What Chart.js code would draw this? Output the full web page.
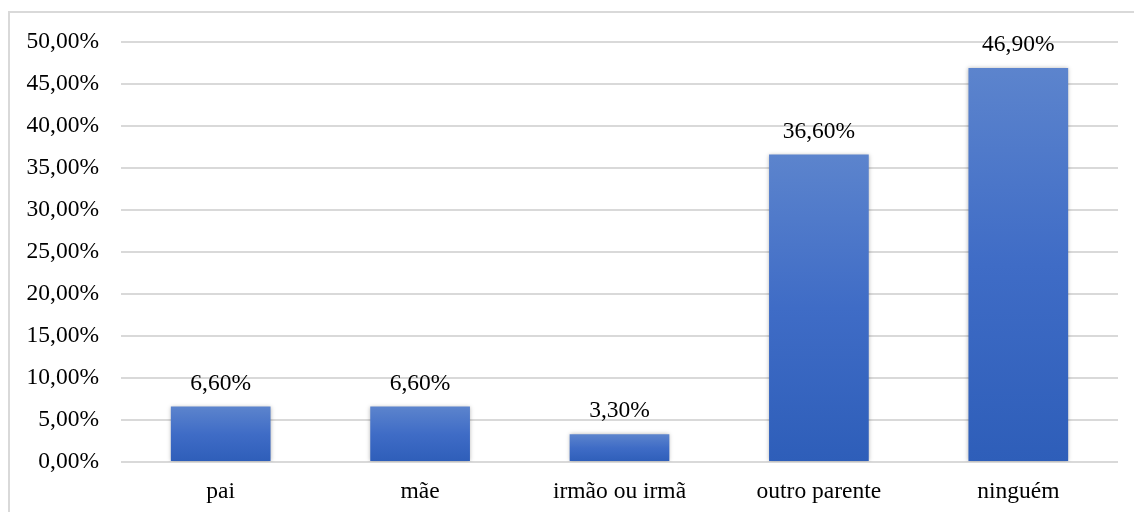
<!DOCTYPE html>
<html>
<head>
<meta charset="utf-8">
<script src="https://cdn.jsdelivr.net/npm/chart.js@4.4.1/dist/chart.umd.min.js"></script>
<style>
  html, body { margin: 0; padding: 0; background: #fff; }
  #wrap { width: 1134px; height: 512px; position: relative; }
</style>
</head>
<body>
<div id="wrap"><canvas id="c" width="1134" height="512"></canvas></div>
<script>
const categories = ["pai", "mãe", "irmão ou irmã", "outro parente", "ninguém"];
const values = [6.6, 6.6, 3.3, 36.6, 46.9];
const yTicks = [0, 5, 10, 15, 20, 25, 30, 35, 40, 45, 50];

const FONT = "'Liberation Serif', 'Times New Roman', serif";
const FS = 23.5;
const fmt = v => v.toFixed(2).replace('.', ',') + '%';

const frame = {
  id: 'frame',
  beforeDraw(chart) {
    const ctx = chart.ctx;
    ctx.save();
    ctx.fillStyle = '#fff';
    ctx.fillRect(0, 0, chart.width, chart.height);
    ctx.strokeStyle = '#d9d9d9';
    ctx.lineWidth = 2;
    ctx.strokeRect(9, 12, 1400, 800);
    ctx.restore();
  }
};

const shadow = {
  id: 'shadow',
  beforeDatasetsDraw(chart) {
    const ctx = chart.ctx;
    ctx.save();
    ctx.shadowColor = 'rgba(0,0,0,0.28)';
    ctx.shadowBlur = 4;
    ctx.shadowOffsetX = 0;
    ctx.shadowOffsetY = 0;
  },
  afterDatasetsDraw(chart) {
    chart.ctx.restore();
  }
};

const labels = {
  id: 'labels',
  afterDatasetsDraw(chart) {
    const ctx = chart.ctx;
    const meta = chart.getDatasetMeta(0);
    ctx.save();
    ctx.font = FS + 'px ' + FONT;
    ctx.fillStyle = '#000';
    ctx.textAlign = 'center';
    ctx.textBaseline = 'alphabetic';
    meta.data.forEach((bar, i) => {
      ctx.fillText(fmt(values[i]), bar.x, bar.y - 17);
    });
    ctx.restore();
  }
};

new Chart(document.getElementById('c'), {
  type: 'bar',
  data: {
    labels: categories,
    datasets: [{
      data: values,
      backgroundColor(context) {
        const chart = context.chart;
        const y = chart.scales && chart.scales.y;
        if (!y || context.dataIndex === undefined) return '#4472c4';
        const top = y.getPixelForValue(values[context.dataIndex]);
        const base = y.getPixelForValue(0);
        if (!isFinite(top) || !isFinite(base) || top === base) return '#4472c4';
        const g = chart.ctx.createLinearGradient(0, top, 0, base);
        g.addColorStop(0, '#5c84cd');
        g.addColorStop(0.5, '#3f6cc6');
        g.addColorStop(1, '#2e5eb9');
        return g;
      },
      borderWidth: 0,
      categoryPercentage: 1,
      barPercentage: 0.5
    }]
  },
  options: {
    responsive: false,
    animation: false,
    devicePixelRatio: 1,
    layout: { padding: { top: 42, right: 16, left: 0, bottom: 0 } },
    plugins: {
      legend: { display: false },
      tooltip: { enabled: false }
    },
    scales: {
      x: {
        grid: { display: false, drawTicks: false },
        border: { display: false },
        ticks: { color: '#000', font: { family: FONT, size: FS }, padding: 16 },
        afterFit(s) { s.height = 50; }
      },
      y: {
        min: 0,
        max: 50,
        afterBuildTicks(s) { s.ticks = yTicks.map(v => ({ value: v })); },
        grid: { color: '#d9d9d9', lineWidth: 2, drawTicks: false },
        border: { display: false },
        ticks: {
          color: '#000',
          font: { family: FONT, size: FS },
          padding: 22,
          callback: v => fmt(v)
        },
        afterFit(s) { s.width = 121; }
      }
    }
  },
  plugins: [frame, shadow, labels]
});
</script>
</body>
</html>
